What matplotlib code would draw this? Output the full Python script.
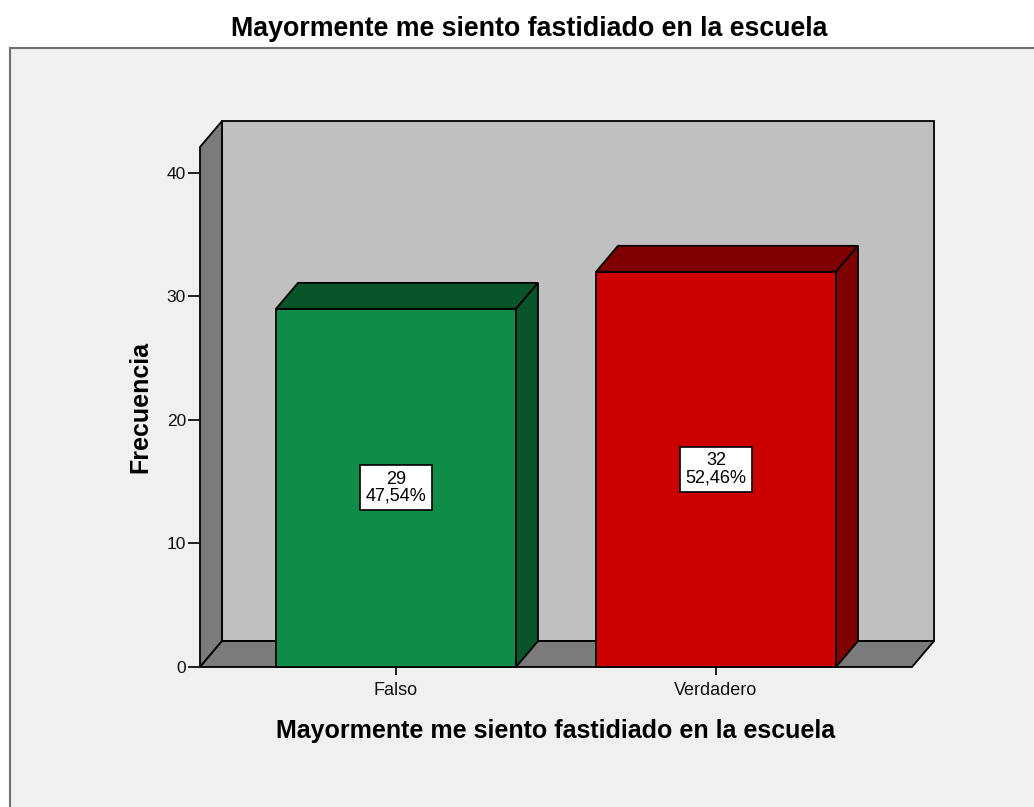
import matplotlib
matplotlib.use('Agg')
import matplotlib.pyplot as plt
from matplotlib.patches import Polygon, Rectangle

plt.rcParams['font.family'] = ['Liberation Sans', 'DejaVu Sans']

# ----data-----
title = 'Mayormente me siento fastidiado en la escuela'
categories = ['Falso', 'Verdadero']
counts = [29, 32]
percents = [47.54, 52.46]
yticks = [0, 10, 20, 30, 40]

# ----style-----
front_colors = ['#0f8c48', '#cc0000']
dark_colors = ['#08552a', '#7f0000']
wall_color = '#c0c0c0'
side_color = '#7b7b7b'
bar_width = 0.75
# fake 3d depth, in data units
dx, dy = 0.06875, 2.1
x0, x1 = -0.6125, 1.6125
ytop = 42.1

fig = plt.figure(figsize=(10.34, 8.07), dpi=100)
fig.patch.set_facecolor('white')

# grey panel behind the chart
fig.patches.append(Rectangle((10 / 1034, -0.05), 1.1, (807 - 48) / 807 + 0.05,
                             transform=fig.transFigure, facecolor='#f0f0f0',
                             edgecolor='#707070', lw=1.5, zorder=-5))

ax = fig.add_axes([200 / 1034, 140 / 807, 712 / 1034, 520 / 807])
ax.set_zorder(1)
ax.set_xlim(x0, x1)
ax.set_ylim(0, ytop)
ax.patch.set_visible(False)
for s in ax.spines.values():
    s.set_visible(False)


def poly(pts, fc, z):
    ax.add_patch(Polygon(pts, closed=True, facecolor=fc, edgecolor='black',
                         lw=1.3, clip_on=False, zorder=z, joinstyle='miter'))


# walls and floor
poly([(x0 + dx, dy), (x1 + dx, dy), (x1 + dx, ytop + dy), (x0 + dx, ytop + dy)], wall_color, 1)
poly([(x0, 0), (x0 + dx, dy), (x0 + dx, ytop + dy), (x0, ytop)], side_color, 1.1)
poly([(x0, 0), (x1, 0), (x1 + dx, dy), (x0 + dx, dy)], side_color, 1.1)

# bars
for i, c in enumerate(counts):
    xl, xr = i - bar_width / 2, i + bar_width / 2
    poly([(xl, 0), (xr, 0), (xr, c), (xl, c)], front_colors[i], 2)
    poly([(xl, c), (xr, c), (xr + dx, c + dy), (xl + dx, c + dy)], dark_colors[i], 2)
    poly([(xr, 0), (xr + dx, dy), (xr + dx, c + dy), (xr, c)], dark_colors[i], 2)
    txt = f'{c}\n{percents[i]:.2f}%'.replace('.', ',')
    ax.text(i, c / 2, txt, ha='center', va='center', fontsize=13, linespacing=1.0,
            bbox=dict(boxstyle='square,pad=0.3', facecolor='white',
                      edgecolor='black', lw=1.2), zorder=10)

ax.set_yticks(yticks)
ax.set_xticks(range(len(categories)))
ax.set_xticklabels(categories)
ax.tick_params(axis='y', direction='out', length=8.6, width=1.3, pad=1.5,
               labelsize=12.5, colors='#111111')
ax.tick_params(axis='x', direction='out', length=5.8, width=1.3, pad=5,
               labelsize=13, colors='#111111')

ax.text(-0.0843, 0.5, 'Frecuencia', rotation=90, ha='center', va='center',
        fontsize=18, fontweight='bold', transform=ax.transAxes)
ax.text(0.5, -0.124, title, ha='center', va='center',
        fontsize=18, fontweight='bold', transform=ax.transAxes)
fig.text(529.5 / 1034, 1 - 29 / 807, title, ha='center', va='center',
         fontsize=19.3, fontweight='bold')

fig.savefig('out.png', dpi=100)
